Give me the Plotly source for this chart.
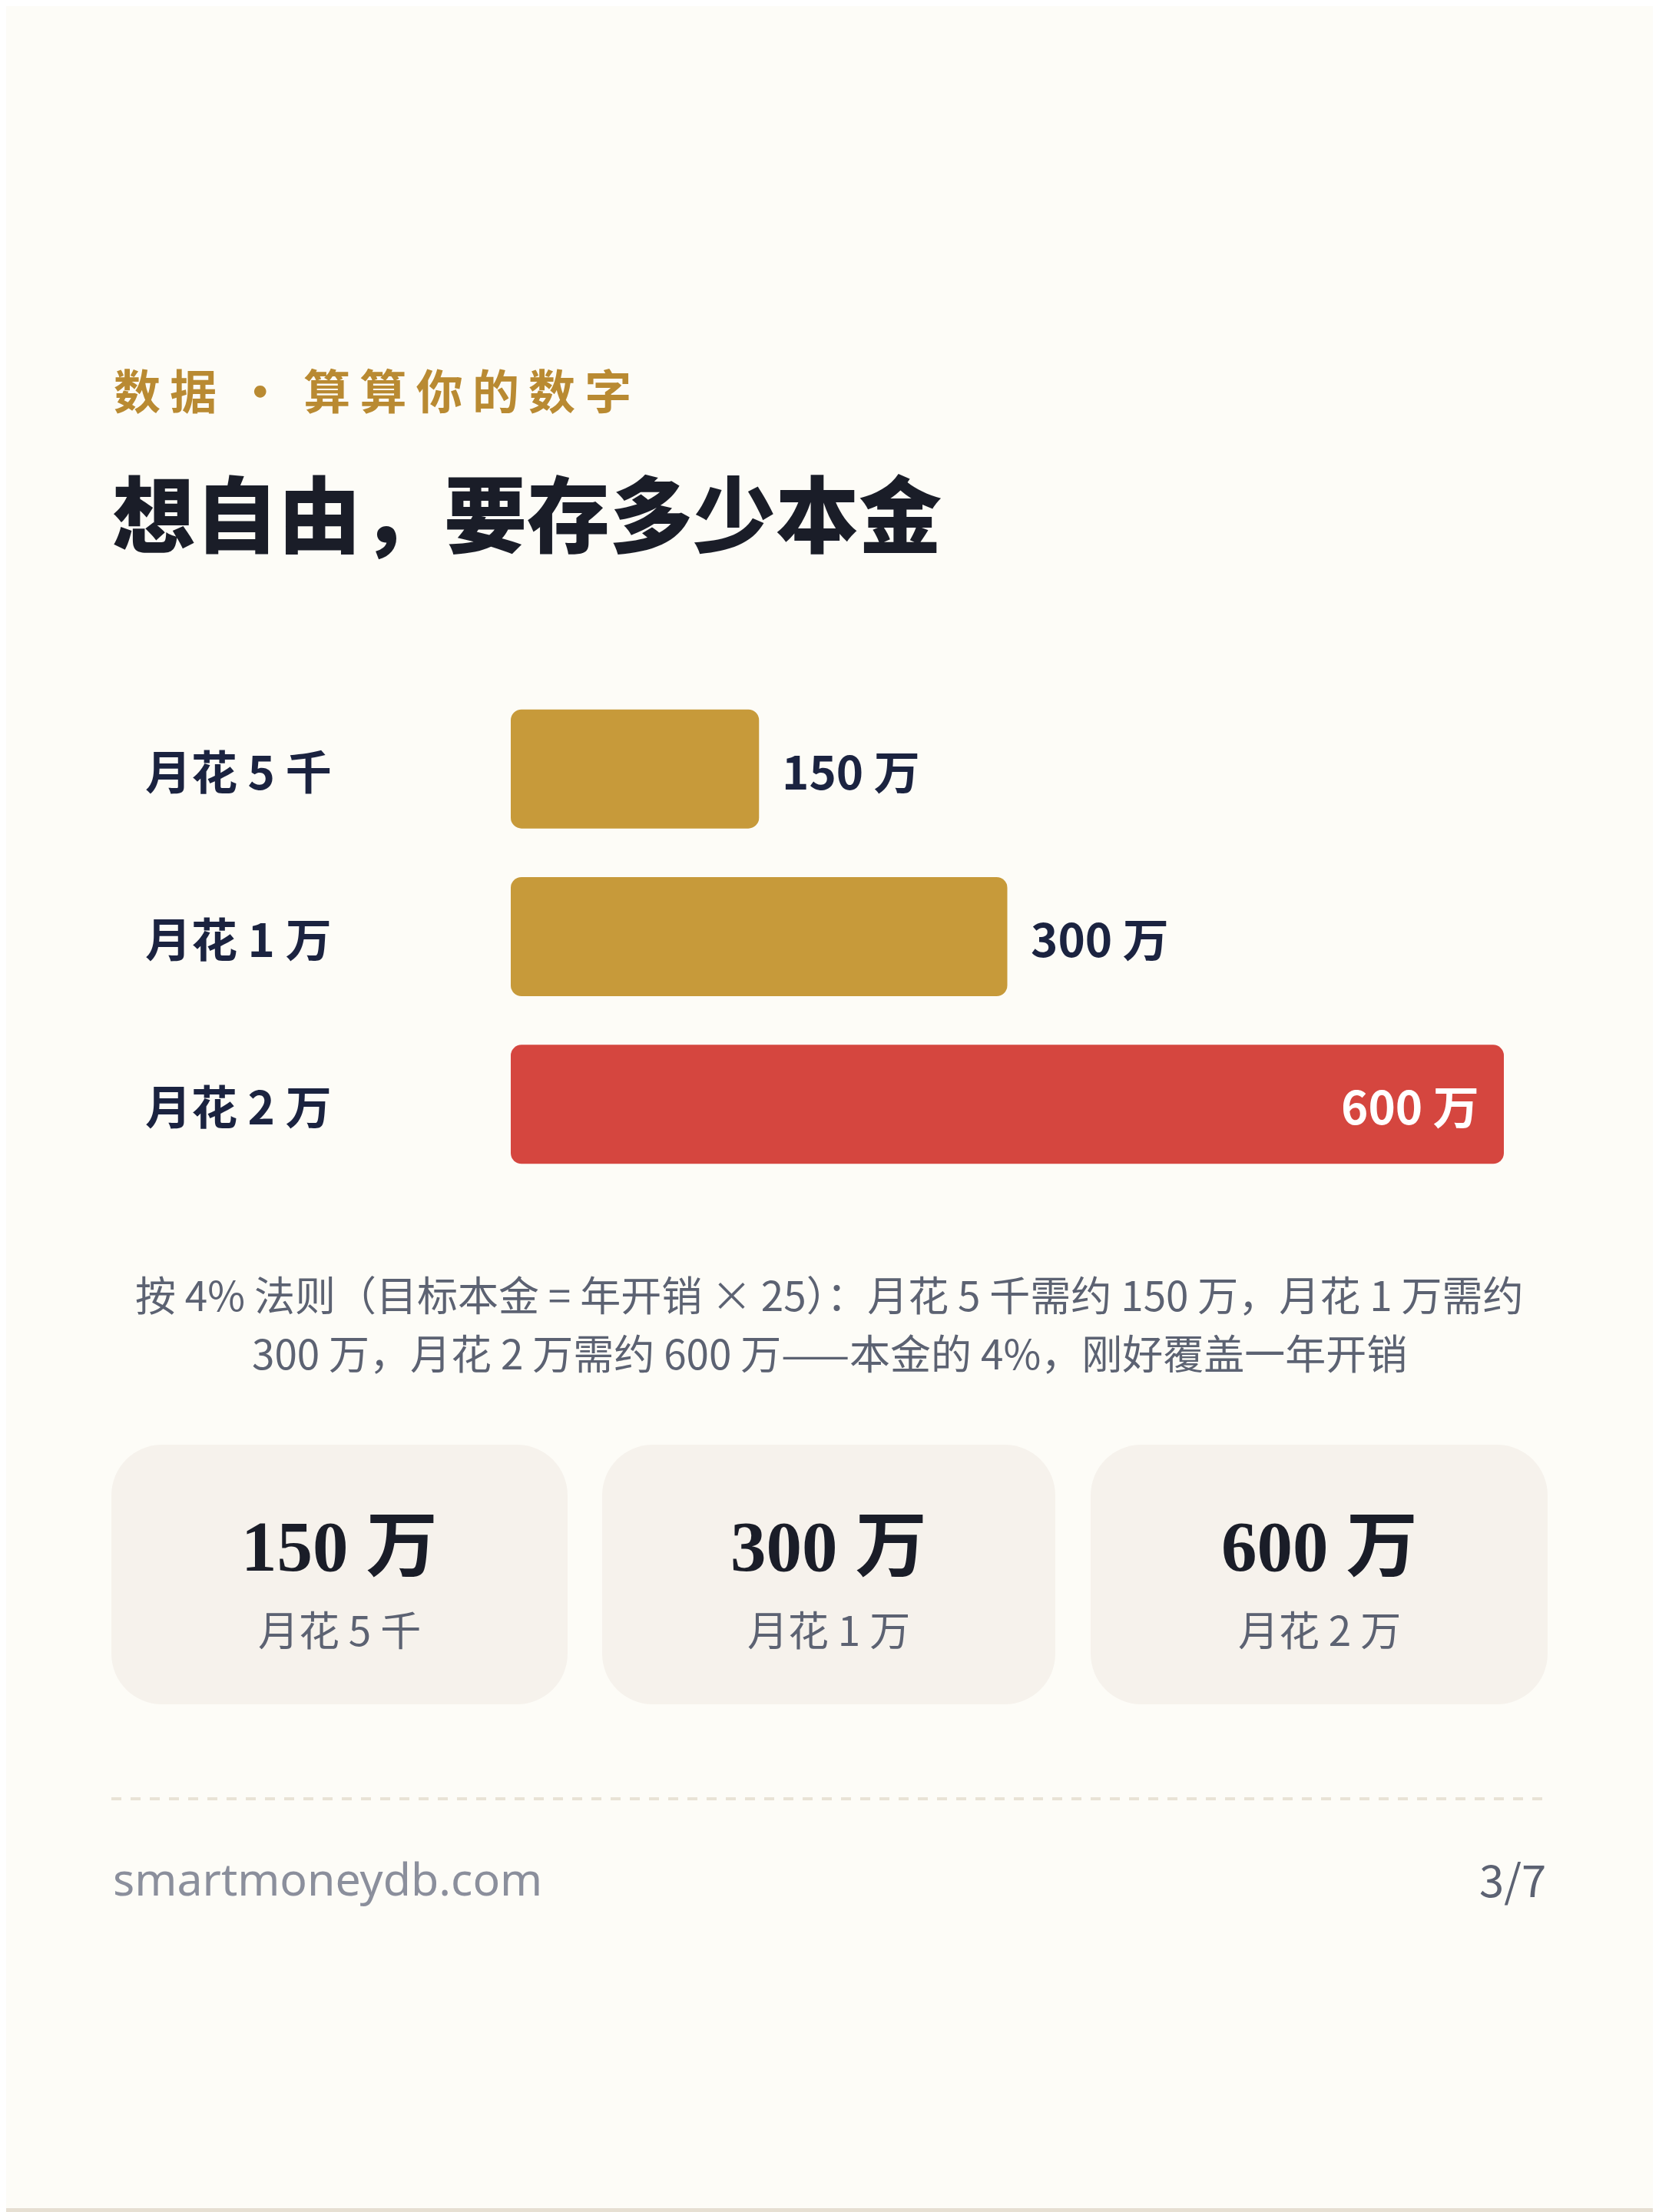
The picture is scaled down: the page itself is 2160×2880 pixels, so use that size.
import plotly.graph_objects as go

# reference page size in px; the browser adds an 8px body margin,
# so the figure is drawn 8px smaller and every position is shifted by it
W, H = 2160, 2880
OFF = 8
FW, FH = W - OFF, H - OFF

# data
categories = ['月花 5 千', '月花 1 万', '月花 2 万']
principal = [150, 300, 600]          # 万
value_labels = ['150 万', '300 万', '600 万']
kicker = '数\u2009据\u2009 · \u2009算\u2009算\u2009你\u2009的\u2009数\u2009字'
title = '想自由，要存多少本金'
caption_lines = [
    '按 4% 法则（目标本金 = 年开销 × 25）：月花 5 千需约 150 万，月花 1 万需约',
    '300 万，月花 2 万需约 600 万——本金的 4%，刚好覆盖一年开销',
]
site = 'smartmoneydb.com'
page_no = '3/7'

# colours
BG = '#fdfcf7'
BORDER = '#e6dfd2'
GOLD = '#c79a3a'
RED = '#d5463f'
NAVY = '#1b2340'
INK = '#1a1d28'
GREY = '#5c6272'
LIGHT = '#8b8f9c'
CARD = '#f6f2ec'
KICK = '#b98a32'
bar_colors = [GOLD, GOLD, RED]

CJK = 'Noto Sans CJK SC'


def px(x):
    return (x - OFF) / FW


def py(y):
    return 1 - (y - OFF) / FH


def rounded_rect(x0, y0, x1, y1, r):
    # rounded rectangle path in paper coords, inputs in pixels (y down)
    k = 0.5523 * r
    pts = [
        ('M', [(x0 + r, y0)]),
        ('L', [(x1 - r, y0)]),
        ('C', [(x1 - r + k, y0), (x1, y0 + r - k), (x1, y0 + r)]),
        ('L', [(x1, y1 - r)]),
        ('C', [(x1, y1 - r + k), (x1 - r + k, y1), (x1 - r, y1)]),
        ('L', [(x0 + r, y1)]),
        ('C', [(x0 + r - k, y1), (x0, y1 - r + k), (x0, y1 - r)]),
        ('L', [(x0, y0 + r)]),
        ('C', [(x0, y0 + r - k), (x0 + r - k, y0), (x0 + r, y0)]),
    ]
    s = ''
    for cmd, ps in pts:
        s += cmd + ' ' + ' '.join(f'{px(a):.5f},{py(b):.5f}' for a, b in ps) + ' '
    return s + 'Z'


fig = go.Figure()

fig.add_trace(go.Bar(
    y=categories,
    x=principal,
    base=[0] * len(principal),
    orientation='h',
    marker=dict(color=bar_colors, line=dict(width=0)),
    hoverinfo='skip',
))

# bar area: x from 665 to 1958 px, bar rows centred at 1001 / 1219.5 / 1438 px
fig.update_layout(
    width=FW,
    height=FH,
    margin=dict(l=0, r=0, t=0, b=0),
    paper_bgcolor=BG,
    plot_bgcolor=BG,
    showlegend=False,
    bargap=0.29,
    barcornerradius=14,
    xaxis=dict(domain=[px(665), px(1958)], range=[0, 600], visible=False,
               fixedrange=True),
    yaxis=dict(domain=[py(1547), py(892)], autorange='reversed', visible=False,
               fixedrange=True),
)

annotations = []

# kicker + title
annotations.append(dict(x=px(146), y=py(506), xref='paper', yref='paper',
                        text=kicker, showarrow=False, xanchor='left', yanchor='middle',
                        font=dict(family=CJK, size=61, color=KICK, weight=700)))
annotations.append(dict(x=px(144), y=py(664), xref='paper', yref='paper',
                        text=title, showarrow=False, xanchor='left', yanchor='middle',
                        font=dict(family=CJK, size=108, color=INK, weight=900)))

# category labels and value labels
for i, (cat, val, lab) in enumerate(zip(categories, principal, value_labels)):
    annotations.append(dict(x=px(187), y=cat, xref='paper', yref='y', text=cat,
                            showarrow=False, xanchor='left', yanchor='middle',
                            font=dict(family=CJK, size=60, color=NAVY, weight=700)))
    if i < len(principal) - 1:
        annotations.append(dict(x=val, y=cat, xref='x', yref='y', text=lab,
                                showarrow=False, xanchor='left', yanchor='middle',
                                xshift=28,
                                font=dict(family=CJK, size=60, color=NAVY, weight=700)))
    else:
        annotations.append(dict(x=val, y=cat, xref='x', yref='y', text=lab,
                                showarrow=False, xanchor='right', yanchor='middle',
                                xshift=-30,
                                font=dict(family=CJK, size=60, color='#ffffff', weight=700)))

# caption
for line, yy in zip(caption_lines, [1684, 1760]):
    annotations.append(dict(x=px(W / 2), y=py(yy), xref='paper', yref='paper', text=line,
                            showarrow=False, xanchor='center', yanchor='middle',
                            font=dict(family=CJK, size=53, color=GREY)))

shapes = []

# summary cards
card_x = [(145, 739), (784, 1374), (1420, 2015)]
for (x0, x1), lab, cat in zip(card_x, value_labels, categories):
    shapes.append(dict(type='path', path=rounded_rect(x0, 1881, x1, 2219, 66),
                       xref='paper', yref='paper', fillcolor=CARD,
                       line=dict(width=0), layer='below'))
    cx = (x0 + x1) / 2
    annotations.append(dict(x=px(cx), y=py(2013), xref='paper', yref='paper', text=lab,
                            showarrow=False, xanchor='center', yanchor='middle',
                            font=dict(family='Liberation Serif, ' + CJK, size=93,
                                      color=INK, weight=700)))
    annotations.append(dict(x=px(cx), y=py(2120), xref='paper', yref='paper', text=cat,
                            showarrow=False, xanchor='center', yanchor='middle',
                            font=dict(family=CJK, size=53, color=GREY)))

# dashed separator
shapes.append(dict(type='line', x0=px(145), x1=px(2015), y0=py(2342), y1=py(2342),
                   xref='paper', yref='paper',
                   line=dict(color='#e9e3d6', width=4, dash='13px,12px')))

# footer
annotations.append(dict(x=px(145), y=py(2445), xref='paper', yref='paper', text=site,
                        showarrow=False, xanchor='left', yanchor='middle',
                        font=dict(family='Noto Sans', size=59, color=LIGHT)))
annotations.append(dict(x=px(2015), y=py(2445), xref='paper', yref='paper', text=page_no,
                        showarrow=False, xanchor='right', yanchor='middle',
                        font=dict(family=CJK, size=58, color=GREY)))

# page frame (left/top edges fall inside the browser margin)
shapes.append(dict(type='rect', x0=px(2.5), x1=px(W - 2.5), y0=py(2.5), y1=py(H - 2.5),
                   xref='paper', yref='paper', line=dict(color=BORDER, width=5),
                   fillcolor='rgba(0,0,0,0)', layer='above'))

fig.update_layout(annotations=annotations, shapes=shapes)

fig.write_html('out.html')
